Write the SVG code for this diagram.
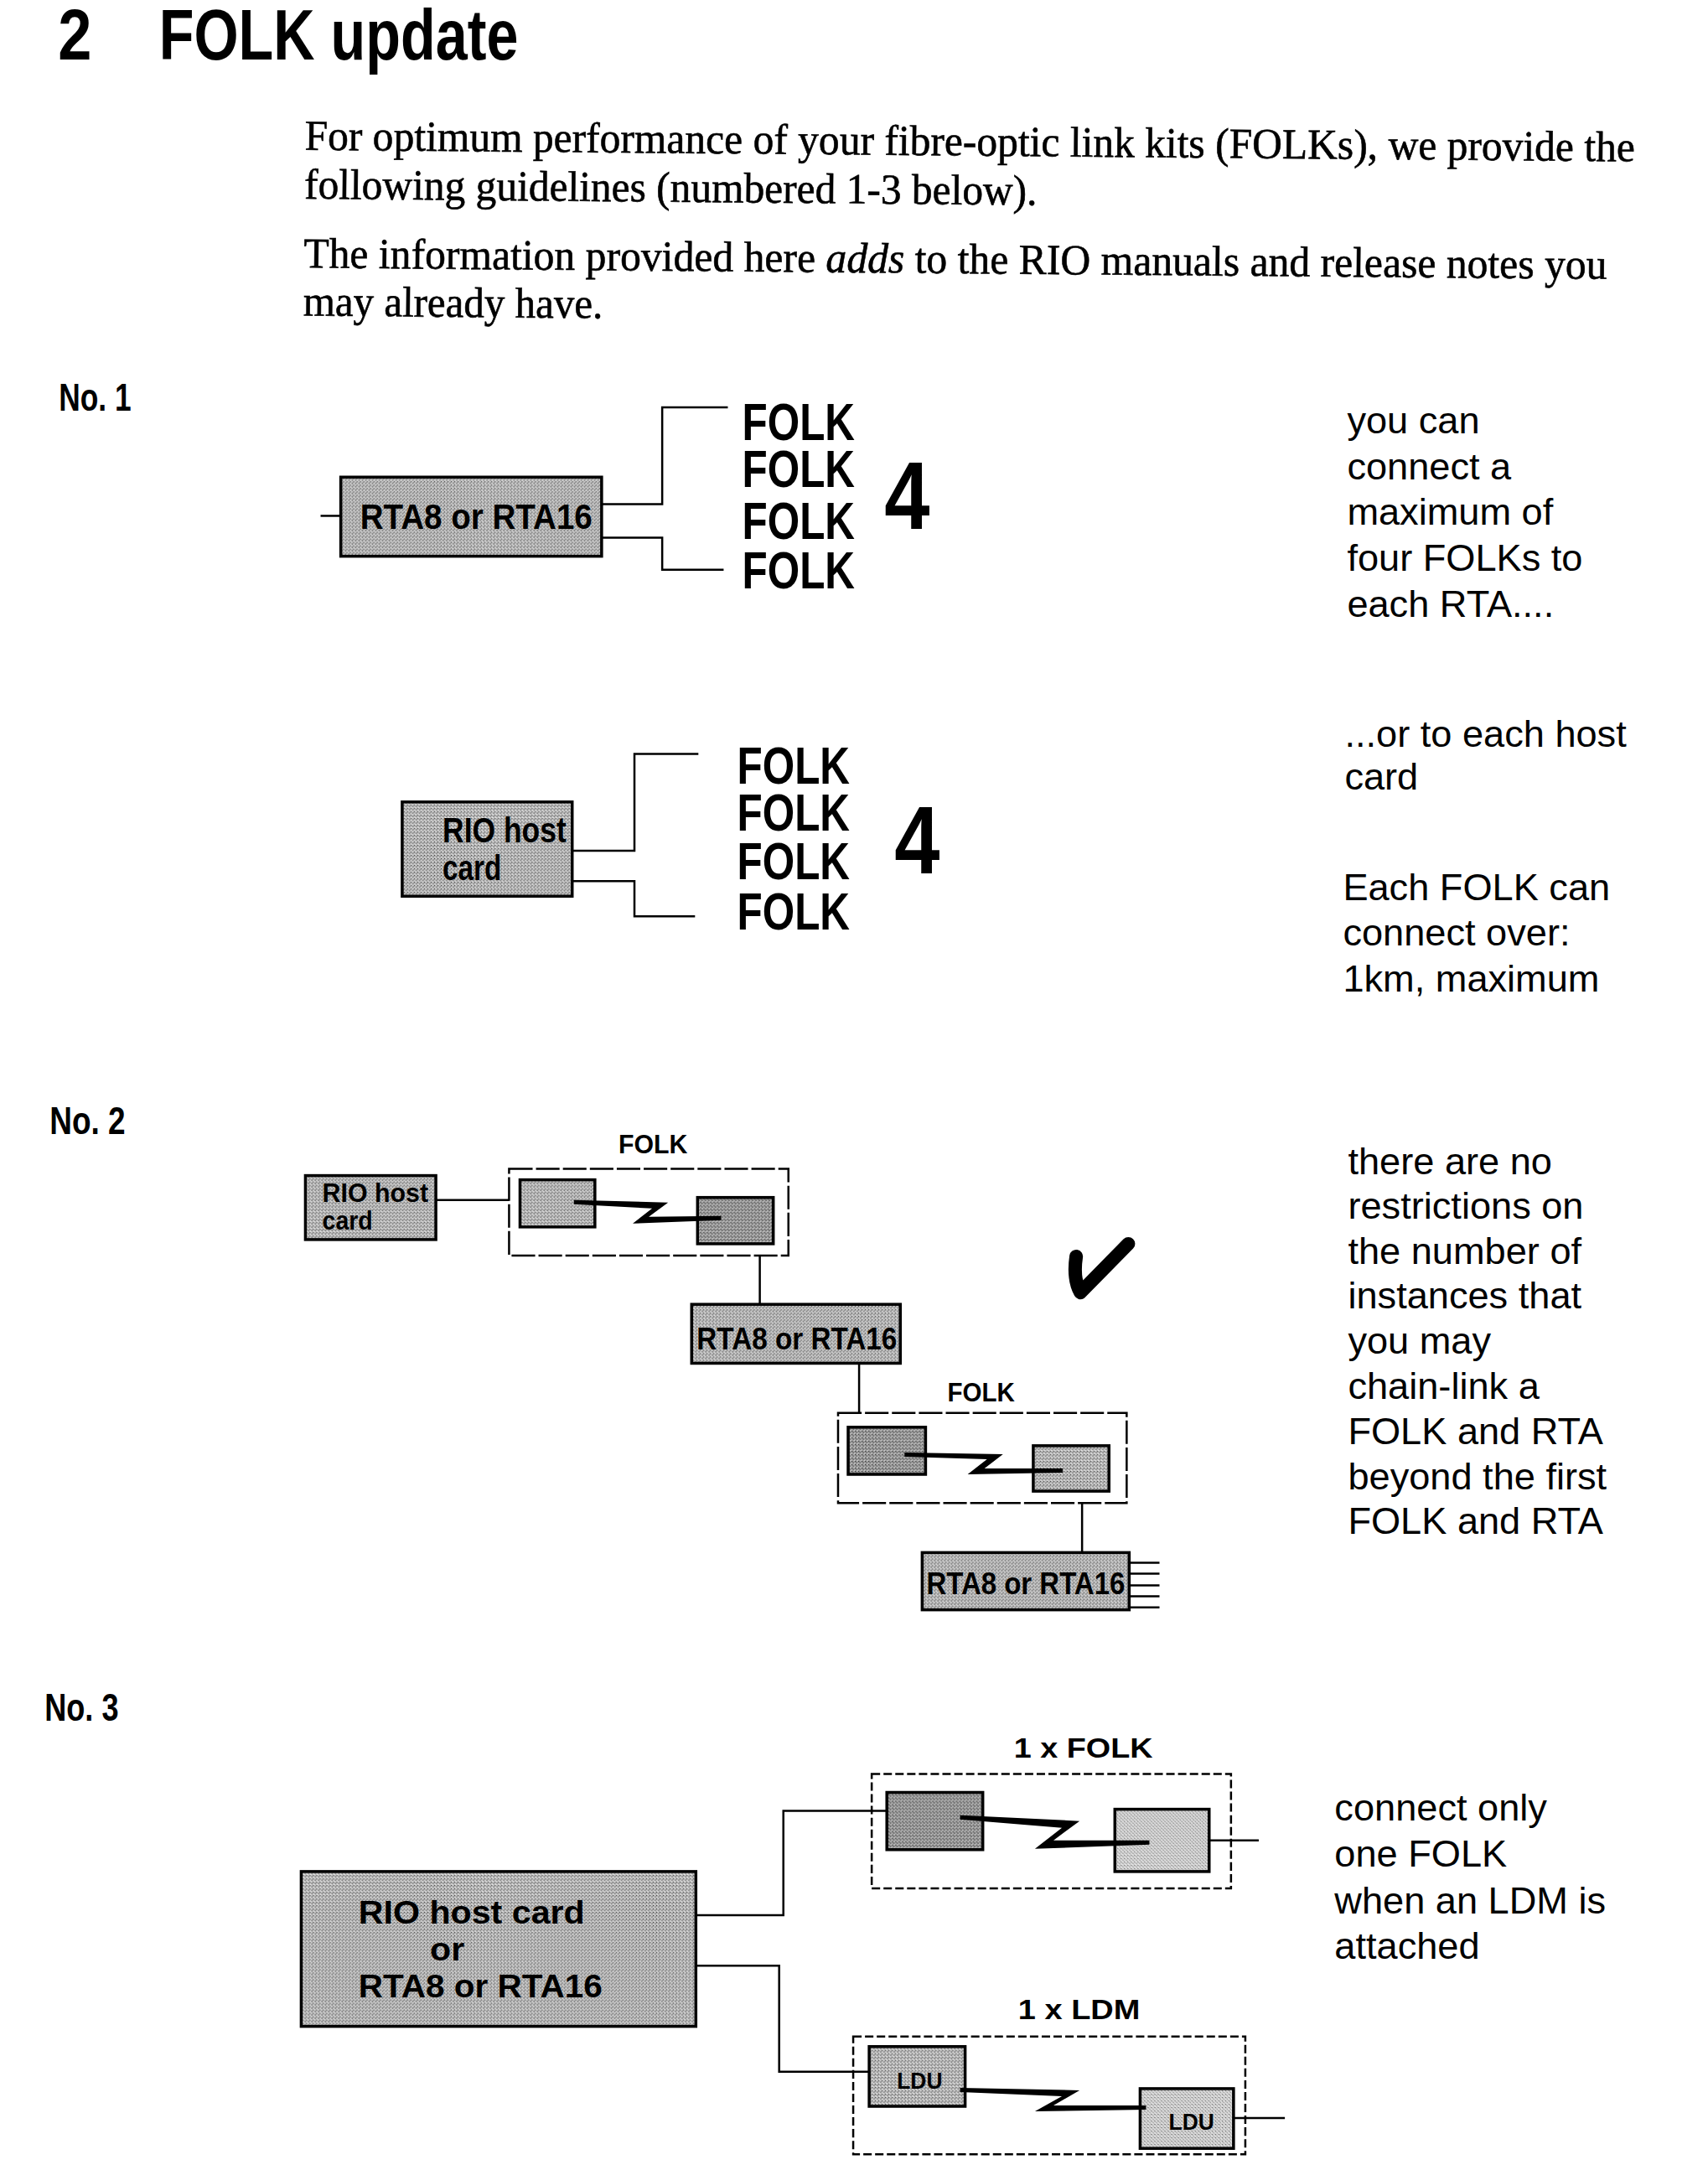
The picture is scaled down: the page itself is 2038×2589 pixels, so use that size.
<svg xmlns="http://www.w3.org/2000/svg" width="2038" height="2589" viewBox="0 0 2038 2589">
<defs>
<pattern id="tex" width="4" height="4" patternUnits="userSpaceOnUse">
<rect width="4" height="4" fill="#c0c0c0"/>
<rect x="0" y="0" width="1" height="1" fill="#3a3a3a"/>
<rect x="2" y="2" width="1" height="1" fill="#3a3a3a"/>
<rect x="3" y="1" width="1" height="1" fill="#7a7a7a"/>
<rect x="1" y="3" width="1" height="1" fill="#ffffff"/>
</pattern>
<pattern id="texd" width="4" height="4" patternUnits="userSpaceOnUse">
<rect width="4" height="4" fill="#a4a4a4"/>
<rect x="0" y="0" width="1" height="1" fill="#222"/>
<rect x="2" y="2" width="1" height="1" fill="#222"/>
<rect x="1" y="1" width="1" height="1" fill="#555"/>
<rect x="3" y="3" width="1" height="1" fill="#e0e0e0"/>
</pattern>
<pattern id="texl" width="4" height="4" patternUnits="userSpaceOnUse">
<rect width="4" height="4" fill="#d0d0d0"/>
<rect x="0" y="0" width="1" height="1" fill="#444"/>
<rect x="2" y="2" width="1" height="1" fill="#666"/>
<rect x="1" y="3" width="1" height="1" fill="#fff"/>
<rect x="3" y="1" width="1" height="1" fill="#fff"/>
</pattern>
</defs>
<style>
.box{stroke:#000;stroke-width:3.5}
.outer{fill:none;stroke:#000;stroke-width:2.5}
.d2{stroke-dasharray:28 4}
.d3{stroke-dasharray:10 4}
.ln{fill:none;stroke:#000;stroke-width:2.5}
.z{fill:#000}
.ser{font-family:"Liberation Serif","Times New Roman",serif;font-size:51px;fill:#000;stroke:#000;stroke-width:0.6}
.bd{font-family:"Liberation Sans",Arial,sans-serif;font-weight:bold;fill:#000}
.note{font-family:"Liberation Sans",Arial,sans-serif;font-size:45px;fill:#000}
</style>
<rect width="2038" height="2589" fill="#fff"/>
<g transform="scale(1.004)">

<g id="title">
<text class="bd" x="69" y="71" font-size="84" textLength="40" lengthAdjust="spacingAndGlyphs">2</text>
<text class="bd" x="189" y="71" font-size="84" textLength="427" lengthAdjust="spacingAndGlyphs">FOLK update</text>
</g>

<g id="intro" transform="rotate(0.5 362 178)">
<text class="ser" x="362" y="178" textLength="1581" lengthAdjust="spacingAndGlyphs">For optimum performance of your fibre-optic link kits (FOLKs), we provide the</text>
<text class="ser" x="362" y="236" textLength="871" lengthAdjust="spacingAndGlyphs">following guidelines (numbered 1-3 below).</text>
<text class="ser" x="362" y="318" textLength="1549" lengthAdjust="spacingAndGlyphs">The information provided here <tspan font-style="italic">adds</tspan> to the RIO manuals and release notes you</text>
<text class="ser" x="362" y="375" textLength="356" lengthAdjust="spacingAndGlyphs">may already have.</text>
</g>

<g id="section-labels">
<text class="bd" x="70" y="488" font-size="46" textLength="86" lengthAdjust="spacingAndGlyphs">No. 1</text>
<text class="bd" x="59" y="1348" font-size="46" textLength="90" lengthAdjust="spacingAndGlyphs">No. 2</text>
<text class="bd" x="53" y="2045" font-size="46" textLength="88" lengthAdjust="spacingAndGlyphs">No. 3</text>
</g>

<g id="connectors">
<path class="ln" d="M381,613 H405"/>
<path class="ln" d="M715,599 H787 V484 H865"/>
<path class="ln" d="M715,639 H787 V677 H860"/>
<path class="ln" d="M680,1011 H754 V896 H830"/>
<path class="ln" d="M680,1047 H754 V1089 H826"/>
<path class="ln" d="M518,1426 H605"/>
<path class="ln" d="M903,1492 V1550"/>
<path class="ln" d="M1021,1620 V1679"/>
<path class="ln" d="M1286,1786 V1845"/>
<path class="ln" d="M1342,1857 H1378 M1342,1870 H1378 M1342,1884 H1378 M1342,1897 H1378 M1342,1910 H1378"/>
<path class="ln" d="M827,2276 H931 V2152 H1054"/>
<path class="ln" d="M827,2336 H926 V2462 H1033"/>
<path class="ln" d="M1437,2187 H1496"/>
<path class="ln" d="M1466,2517 H1527"/>
</g>

<g id="n1-rta">
<rect class="box" x="405" y="567" width="310" height="94" fill="url(#tex)"/>
<text class="bd" x="428" y="628" font-size="43" textLength="276" lengthAdjust="spacingAndGlyphs">RTA8 or RTA16</text>
</g>
<g id="n1-folks">
<text class="bd" x="882" y="523" font-size="62" textLength="134" lengthAdjust="spacingAndGlyphs">FOLK</text>
<text class="bd" x="882" y="579" font-size="62" textLength="134" lengthAdjust="spacingAndGlyphs">FOLK</text>
<text class="bd" x="882" y="640" font-size="62" textLength="134" lengthAdjust="spacingAndGlyphs">FOLK</text>
<text class="bd" x="882" y="699" font-size="62" textLength="134" lengthAdjust="spacingAndGlyphs">FOLK</text>
<text class="bd" x="1051" y="628" font-size="114" textLength="54" lengthAdjust="spacingAndGlyphs">4</text>
</g>

<g id="n1-host">
<rect class="box" x="478" y="953" width="202" height="112" fill="url(#tex)"/>
<text class="bd" x="526" y="1001" font-size="42" textLength="147" lengthAdjust="spacingAndGlyphs">RIO host</text>
<text class="bd" x="526" y="1046" font-size="42" textLength="70" lengthAdjust="spacingAndGlyphs">card</text>
</g>
<g id="n1-host-folks">
<text class="bd" x="876" y="931" font-size="62" textLength="134" lengthAdjust="spacingAndGlyphs">FOLK</text>
<text class="bd" x="876" y="987" font-size="62" textLength="134" lengthAdjust="spacingAndGlyphs">FOLK</text>
<text class="bd" x="876" y="1045" font-size="62" textLength="134" lengthAdjust="spacingAndGlyphs">FOLK</text>
<text class="bd" x="876" y="1105" font-size="62" textLength="134" lengthAdjust="spacingAndGlyphs">FOLK</text>
<text class="bd" x="1063" y="1038" font-size="114" textLength="54" lengthAdjust="spacingAndGlyphs">4</text>
</g>

<g id="note1">
<text class="note" x="1601" y="515">you can</text>
<text class="note" x="1601" y="570">connect a</text>
<text class="note" x="1601" y="624">maximum of</text>
<text class="note" x="1601" y="678">four FOLKs to</text>
<text class="note" x="1601" y="733">each RTA....</text>
<text class="note" x="1598" y="887">...or to each host</text>
<text class="note" x="1598" y="938">card</text>
<text class="note" x="1596" y="1070">Each FOLK can</text>
<text class="note" x="1596" y="1124">connect over:</text>
<text class="note" x="1596" y="1178">1km, maximum</text>
</g>

<g id="n2-host">
<rect class="box" x="363" y="1397" width="155" height="76" fill="url(#tex)"/>
<text class="bd" x="383" y="1428" font-size="31" textLength="126" lengthAdjust="spacingAndGlyphs">RIO host</text>
<text class="bd" x="383" y="1461" font-size="31" textLength="60" lengthAdjust="spacingAndGlyphs">card</text>
</g>
<g id="n2-folk1">
<text class="bd" x="735" y="1371" font-size="32" textLength="82" lengthAdjust="spacingAndGlyphs">FOLK</text>
<rect class="outer d2" x="605" y="1389" width="332" height="103"/>
<rect class="box" x="618" y="1402" width="89" height="56" fill="url(#tex)"/>
<rect class="box" x="829" y="1423" width="90" height="55" fill="url(#texd)"/>
<polygon class="z" points="682,1426 794,1429 771,1446 857,1445 857,1450 752,1454 775,1436 682,1431"/>
</g>
<g id="n2-rta1">
<rect class="box" x="822" y="1550" width="248" height="70" fill="url(#tex)"/>
<text class="bd" x="828" y="1604" font-size="36" textLength="238" lengthAdjust="spacingAndGlyphs">RTA8 or RTA16</text>
</g>
<g id="n2-folk2">
<text class="bd" x="1126" y="1665" font-size="31" textLength="80" lengthAdjust="spacingAndGlyphs">FOLK</text>
<rect class="outer d2" x="996" y="1679" width="343" height="107"/>
<rect class="box" x="1008" y="1696" width="92" height="56" fill="url(#texd)"/>
<rect class="box" x="1228" y="1718" width="90" height="54" fill="url(#tex)"/>
<polygon class="z" points="1075,1726 1192,1728 1170,1745 1263,1745 1263,1750 1150,1752 1173,1734 1075,1731"/>
</g>
<g id="n2-rta2">
<rect class="box" x="1096" y="1845" width="246" height="68" fill="url(#tex)"/>
<text class="bd" x="1101" y="1894" font-size="36" textLength="236" lengthAdjust="spacingAndGlyphs">RTA8 or RTA16</text>
</g>
<g id="check">
<path d="M1279,1493 Q1275,1520 1284,1536 L1341,1478" fill="none" stroke="#000" stroke-width="16" stroke-linecap="round" stroke-linejoin="round"/>
</g>

<g id="note2">
<text class="note" x="1602" y="1395">there are no</text>
<text class="note" x="1602" y="1448">restrictions on</text>
<text class="note" x="1602" y="1502">the number of</text>
<text class="note" x="1602" y="1555">instances that</text>
<text class="note" x="1602" y="1609">you may</text>
<text class="note" x="1602" y="1662">chain-link a</text>
<text class="note" x="1602" y="1716">FOLK and RTA</text>
<text class="note" x="1602" y="1770">beyond the first</text>
<text class="note" x="1602" y="1823">FOLK and RTA</text>
</g>

<g id="n3-host">
<rect class="box" x="358" y="2224" width="469" height="184" fill="url(#tex)"/>
<text class="bd" x="426" y="2286" font-size="39" textLength="269" lengthAdjust="spacingAndGlyphs">RIO host card</text>
<text class="bd" x="511" y="2330" font-size="39" textLength="41" lengthAdjust="spacingAndGlyphs">or</text>
<text class="bd" x="426" y="2374" font-size="39" textLength="290" lengthAdjust="spacingAndGlyphs">RTA8 or RTA16</text>
</g>
<g id="n3-folk">
<text class="bd" x="1205" y="2089" font-size="34" textLength="165" lengthAdjust="spacingAndGlyphs">1 x FOLK</text>
<rect class="outer d3" x="1036" y="2108" width="427" height="136"/>
<rect class="box" x="1054" y="2130" width="114" height="68" fill="url(#texd)"/>
<rect class="box" x="1325" y="2150" width="112" height="74" fill="url(#texl)"/>
<polygon class="z" points="1141,2157 1283,2164 1252,2187 1366,2187 1366,2192 1230,2197 1262,2172 1141,2162"/>
</g>
<g id="n3-ldm">
<text class="bd" x="1210" y="2399" font-size="34" textLength="145" lengthAdjust="spacingAndGlyphs">1 x LDM</text>
<rect class="outer d3" x="1014" y="2420" width="466" height="140"/>
<rect class="box" x="1033" y="2432" width="114" height="71" fill="url(#tex)"/>
<text class="bd" x="1066" y="2482" font-size="28" textLength="54" lengthAdjust="spacingAndGlyphs">LDU</text>
<rect class="box" x="1355" y="2482" width="111" height="71" fill="url(#texl)"/>
<text class="bd" x="1389" y="2531" font-size="28" textLength="54" lengthAdjust="spacingAndGlyphs">LDU</text>
<polygon class="z" points="1141,2481 1283,2484 1252,2502 1362,2502 1362,2507 1230,2509 1262,2491 1141,2486"/>
</g>

<g id="note3">
<text class="note" x="1586" y="2163">connect only</text>
<text class="note" x="1586" y="2218">one FOLK</text>
<text class="note" x="1586" y="2274">when an LDM is</text>
<text class="note" x="1586" y="2328">attached</text>
</g>
</g>
</svg>
